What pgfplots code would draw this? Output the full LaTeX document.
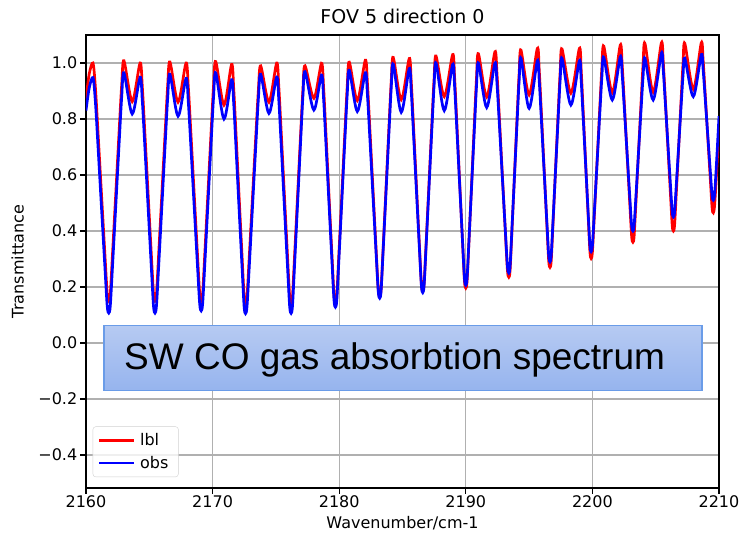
\documentclass[border=0pt]{standalone}
\usepackage{fontspec}
\setmainfont{DejaVu Sans}
\newfontfamily\arial{Liberation Sans}
\usepackage{pgfplots}
\usepackage{pgfplotstable}
\pgfplotsset{compat=1.18}

\definecolor{gridgray}{HTML}{B0B0B0}
\definecolor{boxtop}{HTML}{B6CAF2}
\definecolor{boxbot}{HTML}{96B4EE}
\definecolor{boxedge}{HTML}{6A9CE8}

% x, lbl (model), obs (measured)
\pgfplotstableread{
x lbl obs
2160.000 0.870 0.830
2160.250 0.960 0.910
2160.550 1.000 0.948
2160.738 0.915 0.864
2160.925 0.771 0.721
2161.200 0.550 0.502
2161.488 0.320 0.275
2161.675 0.176 0.132
2161.800 0.150 0.107
2161.920 0.176 0.133
2162.100 0.322 0.279
2162.376 0.553 0.510
2162.640 0.776 0.733
2162.820 0.922 0.879
2163.000 1.008 0.965
2163.650 0.862 0.818
2164.270 1.000 0.949
2164.447 0.915 0.865
2164.624 0.771 0.722
2164.884 0.550 0.503
2165.155 0.320 0.275
2165.332 0.176 0.132
2165.450 0.150 0.107
2165.568 0.176 0.133
2165.745 0.321 0.278
2166.016 0.551 0.508
2166.276 0.773 0.730
2166.453 0.919 0.875
2166.630 1.004 0.960
2167.270 0.860 0.810
2167.900 1.000 0.945
2168.080 0.915 0.862
2168.260 0.771 0.721
2168.524 0.550 0.505
2168.800 0.320 0.281
2168.980 0.176 0.140
2169.100 0.150 0.115
2169.215 0.176 0.141
2169.388 0.321 0.285
2169.652 0.552 0.515
2169.905 0.774 0.736
2170.078 0.920 0.880
2170.250 1.005 0.965
2170.900 0.850 0.800
2171.500 0.995 0.940
2171.665 0.910 0.857
2171.830 0.764 0.715
2172.072 0.542 0.497
2172.325 0.311 0.272
2172.490 0.166 0.130
2172.600 0.140 0.105
2172.720 0.166 0.131
2172.900 0.310 0.276
2173.176 0.540 0.507
2173.440 0.761 0.729
2173.620 0.905 0.875
2173.800 0.990 0.960
2174.450 0.860 0.820
2175.060 1.000 0.950
2175.231 0.914 0.866
2175.402 0.768 0.722
2175.653 0.544 0.503
2175.915 0.312 0.275
2176.086 0.166 0.131
2176.200 0.140 0.106
2176.310 0.166 0.132
2176.475 0.310 0.279
2176.728 0.540 0.512
2176.970 0.761 0.736
2177.135 0.905 0.883
2177.300 0.990 0.969
2178.000 0.874 0.832
2178.600 0.999 0.957
2178.765 0.914 0.874
2178.930 0.768 0.733
2179.172 0.546 0.518
2179.425 0.316 0.294
2179.590 0.171 0.153
2179.700 0.145 0.128
2179.810 0.171 0.153
2179.975 0.317 0.297
2180.228 0.548 0.526
2180.470 0.771 0.746
2180.635 0.917 0.889
2180.800 1.003 0.974
2181.430 0.866 0.827
2182.060 1.010 0.965
2182.231 0.926 0.885
2182.402 0.782 0.748
2182.653 0.562 0.538
2182.915 0.334 0.321
2183.086 0.190 0.184
2183.200 0.165 0.160
2183.307 0.190 0.185
2183.468 0.336 0.327
2183.714 0.567 0.553
2183.949 0.789 0.770
2184.110 0.935 0.912
2184.270 1.020 0.996
2184.900 0.869 0.824
2185.530 1.016 0.980
2185.690 0.933 0.900
2185.851 0.792 0.764
2186.086 0.576 0.556
2186.333 0.351 0.340
2186.493 0.210 0.204
2186.600 0.185 0.180
2186.705 0.210 0.205
2186.863 0.353 0.344
2187.104 0.580 0.565
2187.335 0.798 0.779
2187.493 0.941 0.918
2187.650 1.025 1.000
2188.300 0.880 0.830
2188.960 1.030 0.995
2189.116 0.947 0.916
2189.272 0.805 0.782
2189.501 0.588 0.577
2189.740 0.363 0.365
2189.896 0.221 0.231
2190.000 0.196 0.207
2190.100 0.221 0.231
2190.250 0.363 0.366
2190.480 0.589 0.580
2190.700 0.807 0.786
2190.850 0.949 0.921
2191.000 1.033 1.000
2191.650 0.879 0.841
2192.300 1.040 1.000
2192.465 0.960 0.925
2192.630 0.823 0.798
2192.872 0.613 0.603
2193.125 0.396 0.400
2193.290 0.259 0.273
2193.400 0.235 0.250
2193.496 0.259 0.273
2193.640 0.397 0.403
2193.861 0.616 0.610
2194.072 0.827 0.810
2194.216 0.965 0.940
2194.360 1.046 1.017
2195.000 0.886 0.838
2195.650 1.052 1.008
2195.800 0.974 0.936
2195.950 0.841 0.814
2196.170 0.638 0.627
2196.400 0.426 0.434
2196.550 0.293 0.312
2196.650 0.270 0.290
2196.745 0.293 0.312
2196.888 0.426 0.435
2197.106 0.637 0.632
2197.315 0.839 0.821
2197.458 0.972 0.944
2197.600 1.050 1.017
2198.300 0.892 0.850
2198.970 1.052 1.008
2199.110 0.977 0.940
2199.249 0.850 0.824
2199.454 0.655 0.647
2199.668 0.452 0.462
2199.807 0.325 0.346
2199.900 0.302 0.326
2200.000 0.325 0.347
2200.150 0.454 0.465
2200.380 0.658 0.652
2200.600 0.855 0.833
2200.750 0.984 0.951
2200.900 1.060 1.020
2201.570 0.894 0.868
2202.200 1.064 1.022
2202.350 0.994 0.960
2202.500 0.874 0.854
2202.720 0.691 0.692
2202.950 0.501 0.524
2203.100 0.381 0.419
2203.200 0.360 0.400
2203.295 0.381 0.419
2203.438 0.502 0.523
2203.656 0.694 0.690
2203.865 0.878 0.850
2204.008 1.000 0.955
2204.150 1.070 1.017
2204.800 0.896 0.868
2205.450 1.072 1.035
2205.593 1.005 0.977
2205.735 0.891 0.877
2205.944 0.716 0.725
2206.163 0.534 0.567
2206.305 0.420 0.468
2206.400 0.400 0.450
2206.490 0.420 0.467
2206.625 0.534 0.563
2206.832 0.715 0.716
2207.030 0.889 0.864
2207.165 1.003 0.960
2207.300 1.070 1.017
2207.970 0.906 0.880
2208.600 1.072 1.030
2208.743 1.011 0.978
2208.885 0.908 0.890
2209.094 0.750 0.754
2209.313 0.586 0.614
2209.455 0.483 0.526
2209.550 0.465 0.510
2209.650 0.490 0.530
2209.800 0.600 0.640
2210.000 0.770 0.810
}\spectrum

\begin{document}
\begin{tikzpicture}
\begin{axis}[
    width=633pt, height=453pt, scale only axis,
    xmin=2160, xmax=2210,
    ymin=-0.518, ymax=1.1,
    xtick={2160,2170,2180,2190,2200,2210},
    xticklabels={2160,2170,2180,2190,2200,2210},
    ytick={-0.4,-0.2,0,0.2,0.4,0.6,0.8,1.0},
    yticklabels={−0.4,−0.2,0.0,0.2,0.4,0.6,0.8,1.0},
    tick label style={font=\fontsize{16}{19}\selectfont},
    xticklabel style={inner sep=2pt},
    yticklabel style={inner sep=3pt},
    label style={font=\fontsize{16}{19}\selectfont},
    xlabel={Wavenumber/cm-1},
    ylabel={Transmittance},
    xlabel shift=3pt,
    ylabel shift=8pt,
    title={FOV 5 direction 0},
    title style={font=\fontsize{19}{22}\selectfont, inner sep=5pt},
    grid=major,
    grid style={gridgray, line width=1.3pt},
    axis line style={line width=1.3pt},
    tick style={black, line width=1.3pt},
    major tick length=5.6pt,
    tick align=outside,
    xtick pos=bottom, ytick pos=left,
    legend style={at={(0.0106,0.024)}, anchor=south west,
        font=\fontsize{16}{19}\selectfont,
        draw=black!18, rounded corners=3pt, fill=white, fill opacity=0.8,
        text opacity=1, inner xsep=5pt, inner ysep=5pt, row sep=5pt,
        nodes={inner xsep=5pt}},
    legend cell align=left,
    legend image code/.code={\draw[#1, line width=2.2pt] (0pt,0pt) -- (35pt,0pt);},
]
\addplot[red, line width=2.7pt, smooth] table[x=x, y=lbl] {\spectrum};
\addlegendentry{lbl}
\addplot[blue, line width=2.7pt, smooth] table[x=x, y=obs] {\spectrum};
\addlegendentry{obs}

% pasted caption box
\path[top color=boxtop, bottom color=boxbot, draw=boxedge, line width=1.2pt]
    (axis cs:2161.42,0.061) rectangle (axis cs:2208.66,-0.171);
\node[anchor=base west, inner sep=0pt, font=\arial\fontsize{37}{40}\selectfont]
    at (axis cs:2163.0,-0.096) {SW CO gas absorbtion spectrum};

\coordinate (sw) at (rel axis cs:0,0);
\coordinate (ne) at (rel axis cs:1,1);
\end{axis}
\pgfresetboundingbox
\path[use as bounding box] ([shift={(-86pt,-48pt)}]sw) rectangle ([shift={(22pt,35pt)}]ne);
\end{tikzpicture}
\end{document}
